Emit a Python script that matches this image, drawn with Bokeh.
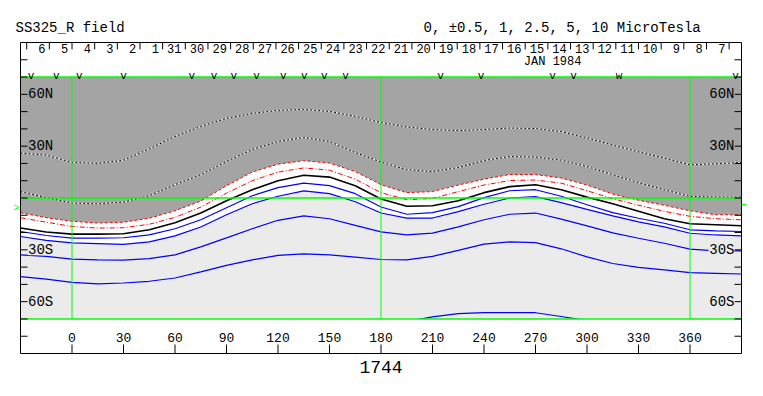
from bokeh.plotting import figure
from bokeh.models import Range1d
from bokeh.core.properties import value
from bokeh.embed import file_html
from bokeh.resources import INLINE

# ---------------- data ----------------
LON = [-30, -15, 0, 15, 30, 45, 60, 75, 90, 105, 120, 135, 150, 165, 180,
       195, 210, 225, 240, 255, 270, 285, 300, 315, 330, 345, 360, 375, 390]

# contour latitudes (deg) along LON
NEG5 = [26.0, 24.8, 20.6, 20.0, 21.9, 28.4, 35.6, 41.4, 46.1, 49.0, 50.7, 51.3, 50.1, 47.2, 43.7,
        41.1, 39.6, 39.0, 39.6, 40.5, 40.2, 38.4, 34.8, 30.6, 26.8, 23.0, 19.2, 19.8, 20.6]
NEG25 = [3.7, 0.2, -2.9, -3.4, -2.4, 1.3, 7.7, 13.5, 21.1, 28.1, 32.7, 35.0, 32.7, 26.3, 20.8,
         16.4, 15.3, 17.6, 21.7, 24.0, 23.7, 21.9, 18.2, 13.5, 8.9, 4.8, 0.9, 0.6, 0.5]
NEG1 = [-8.5, -11.4, -13.5, -14.5, -14.0, -11.7, -7.4, -1.8, 7.1, 15.0, 19.6, 21.6, 20.2, 15.3, 7.7,
        3.1, 3.7, 7.5, 10.9, 13.6, 13.6, 11.6, 7.5, 2.3, -1.3, -4.2, -7.4, -9.7, -9.7]
NEG05 = [-11.4, -14.0, -16.5, -17.4, -17.2, -15.2, -11.2, -5.3, 2.8, 10.0, 15.0, 17.4, 16.1, 10.9, 3.1,
         -1.0, -0.3, 3.7, 7.5, 10.1, 10.4, 8.6, 4.2, -0.4, -4.2, -7.7, -10.6, -12.0, -12.6]
ZERO = [-17.4, -19.7, -20.9, -20.9, -20.7, -18.4, -14.3, -8.7, -1.6, 4.8, 10.0, 13.2, 12.1, 7.1, -0.6,
        -4.8, -4.5, -1.6, 3.1, 6.6, 7.7, 4.8, 0.5, -3.3, -7.7, -12.0, -14.9, -15.5, -16.1]
POS05 = [-19.4, -21.7, -23.2, -23.2, -23.0, -21.3, -17.8, -12.6, -5.6, 1.3, 6.0, 8.6, 7.2, 2.5, -5.2,
         -9.4, -8.5, -5.0, 0.2, 4.2, 4.8, 1.0, -3.9, -8.5, -11.7, -14.6, -18.4, -19.0, -19.4]
POS1 = [-22.3, -24.5, -26.0, -26.4, -26.8, -25.4, -21.9, -16.8, -9.7, -3.3, 1.0, 4.1, 2.5, -2.2, -8.7,
        -11.6, -11.6, -7.9, -3.6, 0.0, 0.8, -2.7, -6.6, -10.3, -13.8, -16.7, -20.4, -21.4, -21.9]
POS25 = [-32.9, -33.8, -35.4, -35.8, -35.9, -35.1, -32.9, -28.3, -23.1, -17.8, -12.9, -10.3, -12.0, -15.8, -19.6,
         -21.3, -20.3, -16.7, -12.6, -9.4, -8.7, -12.2, -16.1, -20.2, -23.3, -26.2, -29.6, -30.6, -30.6]
POS5 = [-45.5, -46.9, -48.8, -49.7, -49.2, -48.2, -46.3, -42.8, -39.0, -35.8, -33.2, -32.3, -32.9, -34.2, -35.6,
        -35.8, -33.8, -30.3, -26.7, -25.4, -25.8, -29.4, -34.1, -37.9, -40.2, -41.6, -43.2, -43.6, -44.0]
LON10 = [195, 210, 225, 240, 255, 270, 285, 300]
POS10 = [-71.5, -68.8, -66.9, -66.3, -66.3, -66.4, -68.6, -71.0]

X_TICKS = [0, 30, 60, 90, 120, 150, 180, 210, 240, 270, 300, 330, 360]
Y_TICKS = [-80, -70, -60, -50, -40, -30, -20, -10, 0, 10, 20, 30, 40, 50, 60, 70, 80]
Y_LABEL_VALS = [60, 30, -30, -60]
Y_LABELS = ["60N", "30N", "30S", "60S"]

DAYS = [6, 5, 4, 3, 2, 1, 31, 30, 29, 28, 27, 26, 25, 24, 23, 22, 21, 20, 19, 18,
        17, 16, 15, 14, 13, 12, 11, 10, 9, 8, 7]
DAY_DEG = 13.2          # degrees of Carrington longitude per day
FIRST_DAY_TICK = -26.4  # longitude of the first day separator
N_DAY_TICKS = 32

OBS_LON = [-23.8, -9.1, 4.2, 30.1, 69.8, 82.7, 94.3, 107.5, 123.1, 135.3, 146.9, 159.4,
           214.7, 238.3, 280.0, 292.2, 318.7, 386.6]
OBS_MARK = ["v"] * 16 + ["w", "v"]

MARK_LINES_LON = [0, 180, 360]
MARK_LINES_LAT = [70, 0, -70]
EARTH_LAT_LEFT = -6.1
EARTH_LAT_RIGHT = -3.8

TITLE = "SS325_R field"
LEVELS = "0, \u00b10.5, 1, 2.5, 5, 10 MicroTesla"
MONTH = "JAN 1984"
ROTATION = "1744"

# ---------------- layout: the plot box (lon -30..390, lat -90..90) ----------------
W, H = 762, 390
BOX_L, BOX_R, BOX_T, BOX_B = 20, 741, 42, 353      # pixels of the drawn box
XMIN, XMAX, YMIN, YMAX, LATLIM = -30, 390, -90, 90, 70
SX = (BOX_R - BOX_L) / (XMAX - XMIN)
SY = (BOX_B - BOX_T) / (YMAX - YMIN)
X0 = XMIN - BOX_L / SX
X1 = X0 + W / SX
Y1 = YMAX + BOX_T / SY
Y0 = Y1 - H / SY


def px_lon(px):
    return X0 + px / SX


def px_lat(py):
    return Y1 - py / SY


p = figure(width=W, height=H, x_range=Range1d(X0, X1), y_range=Range1d(Y0, Y1),
           output_backend="svg", toolbar_location=None, x_axis_type=None, y_axis_type=None,
           min_border=0, min_border_left=0, min_border_right=0, min_border_top=0,
           min_border_bottom=0)
p.outline_line_color = None
p.background_fill_color = "white"
p.border_fill_color = "white"

DARK = "#a4a4a4"
LIGHT = "#ebebeb"
GREEN = "#00ff00"
MONO = "Liberation Mono"
n = len(LON)

p.varea(x=LON, y1=NEG1, y2=[LATLIM] * n, fill_color=DARK)
p.varea(x=LON, y1=[-LATLIM] * n, y2=POS1, fill_color=LIGHT)

for ys in (NEG5, NEG25):
    p.line(LON, ys, line_color="white", line_width=1)
    p.line(LON, ys, line_color="black", line_width=1, line_dash="2 2")
p.line(LON, NEG1, line_color="red", line_width=1, line_dash="3 2")
p.line(LON, NEG05, line_color="red", line_width=1, line_dash="5 2 1 2")
p.line(LON, ZERO, line_color="black", line_width=1.6)
for ys in (POS05, POS1, POS25, POS5):
    p.line(LON, ys, line_color="#0000ff", line_width=1.2)
p.line(LON10, POS10, line_color="#0000ff", line_width=1.2)

# white masks for the top and bottom bands of the box
p.quad(left=[XMIN, XMIN], right=[XMAX, XMAX], bottom=[YMIN - 30, LATLIM], top=[-LATLIM, YMAX],
       fill_color="white", line_color=None)

# green reference lines
p.segment(x0=[XMIN] * 3, y0=MARK_LINES_LAT, x1=[XMAX] * 3, y1=MARK_LINES_LAT,
          line_color=GREEN, line_width=1.6)
p.segment(x0=MARK_LINES_LON, y0=[-LATLIM] * 3, x1=MARK_LINES_LON, y1=[LATLIM] * 3,
          line_color=GREEN, line_width=1)

# box outline
p.quad(left=[XMIN], right=[XMAX], bottom=[YMIN], top=[YMAX], fill_color=None,
       line_color="black", line_width=1)

# bottom ticks and labels
p.segment(x0=X_TICKS, y0=[YMIN] * len(X_TICKS), x1=X_TICKS, y1=[YMIN + 5.2] * len(X_TICKS),
          line_color="black", line_width=1)
p.text(x=X_TICKS, y=[-81] * len(X_TICKS), text=[str(t) for t in X_TICKS],
       text_font=value(MONO), text_font_size="13px", text_align="center",
       text_baseline="middle", text_color="black")

# side ticks
tl = 4.1
p.segment(x0=[XMIN] * len(Y_TICKS), y0=Y_TICKS, x1=[XMIN + tl] * len(Y_TICKS), y1=Y_TICKS,
          line_color="black", line_width=1)
p.segment(x0=[XMAX - tl] * len(Y_TICKS), y0=Y_TICKS, x1=[XMAX] * len(Y_TICKS), y1=Y_TICKS,
          line_color="black", line_width=1)

# side labels with a patch of the region colour behind them (hides the contour under them)
bgs = [DARK if lab.endswith("N") else LIGHT for lab in Y_LABELS]
lw, lh = 26 / SX, 11 / SY
p.rect(x=[XMIN + 4.4 + lw / 2] * 4, y=Y_LABEL_VALS, width=lw, height=lh,
       fill_color=bgs, line_color=None)
p.rect(x=[XMAX - 4.1 - lw / 2] * 4, y=Y_LABEL_VALS, width=lw, height=lh,
       fill_color=bgs, line_color=None)
p.text(x=[XMIN + 4.4] * 4, y=Y_LABEL_VALS, text=Y_LABELS, text_font=value(MONO),
       text_font_size="14px", text_align="left", text_baseline="middle", text_color="black")
p.text(x=[XMAX - 4.1] * 4, y=Y_LABEL_VALS, text=Y_LABELS, text_font=value(MONO),
       text_font_size="14px", text_align="right", text_baseline="middle", text_color="black")

# day separators and day numbers in the top band
day_ticks = [FIRST_DAY_TICK + DAY_DEG * k for k in range(N_DAY_TICKS)]
p.segment(x0=day_ticks, y0=[YMAX] * N_DAY_TICKS, x1=day_ticks, y1=[YMAX - 4.0] * N_DAY_TICKS,
          line_color="black", line_width=1)
p.text(x=[t + 11.0 for t in day_ticks[:len(DAYS)]], y=[86.3] * len(DAYS),
       text=[str(d) for d in DAYS], text_font=value(MONO), text_font_size="12px",
       text_align="right", text_baseline="middle", text_color="black")
p.text(x=[280], y=[78.6], text=[MONTH], text_font=value(MONO), text_font_size="12px",
       text_align="center", text_baseline="middle", text_color="black")
p.text(x=OBS_LON, y=[70.6] * len(OBS_LON), text=OBS_MARK, text_font=value(MONO),
       text_font_size="11px", text_align="center", text_baseline="alphabetic",
       text_color="black")

# titles and annotations outside the box
p.text(x=[px_lon(15)], y=[px_lat(27)], text=[TITLE], text_font=value(MONO),
       text_font_size="14px", text_align="left", text_baseline="middle", text_color="black")
p.text(x=[px_lon(423)], y=[px_lat(27)], text=[LEVELS], text_font=value(MONO),
       text_font_size="14px", text_align="left", text_baseline="middle", text_color="black")
p.text(x=[180], y=[px_lat(366)], text=[ROTATION], text_font=value(MONO),
       text_font_size="18px", text_align="center", text_baseline="middle", text_color="black")
p.text(x=[px_lon(13)], y=[EARTH_LAT_LEFT], text=[">"], text_font=value(MONO),
       text_font_size="10px", text_align="left", text_baseline="middle", text_color=GREEN)
p.segment(x0=[XMAX], y0=[EARTH_LAT_RIGHT], x1=[px_lon(746)], y1=[EARTH_LAT_RIGHT],
          line_color=GREEN, line_width=1)

open("out.html", "w").write(file_html(p, INLINE))
